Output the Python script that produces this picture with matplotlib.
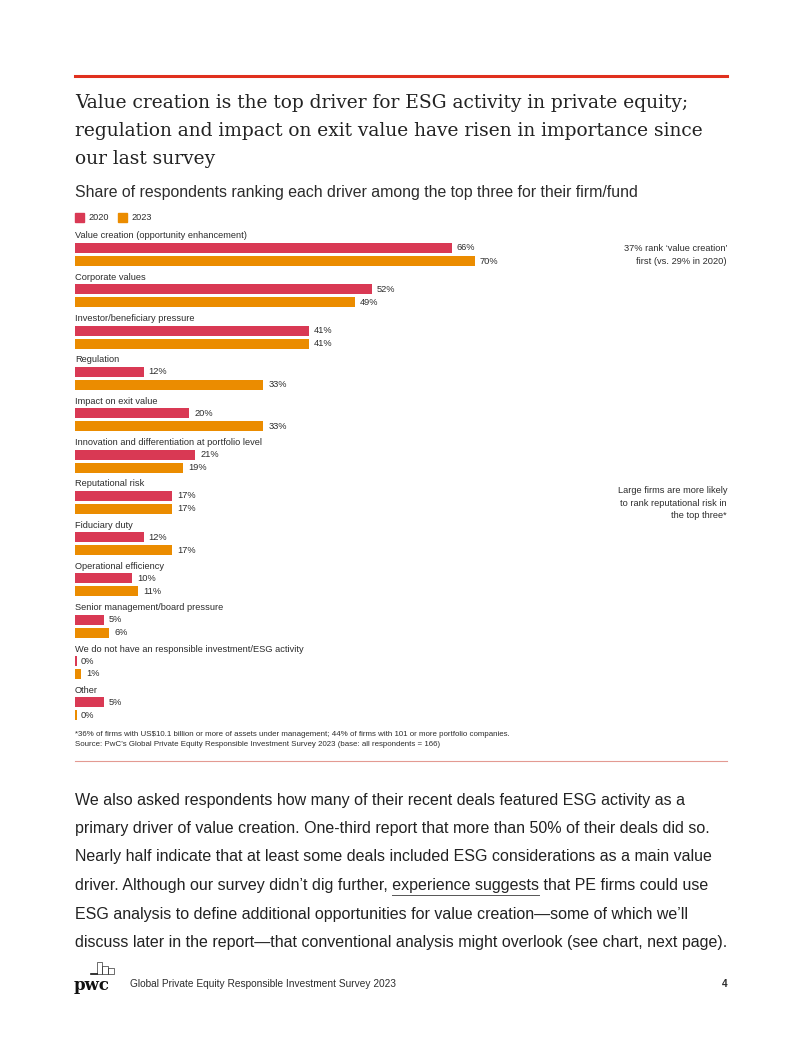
import numpy as np
import matplotlib.pyplot as plt
from matplotlib.patches import Rectangle
from matplotlib.lines import Line2D

W, H = 802, 1037
SANS = 'Liberation Sans'
SERIF = 'DejaVu Serif'
RED = '#D93954'
ORANGE = '#EB8C00'
TXT = '#2d2d2d'

categories = ['Value creation (opportunity enhancement)', 'Corporate values',
              'Investor/beneficiary pressure', 'Regulation', 'Impact on exit value',
              'Innovation and differentiation at portfolio level', 'Reputational risk',
              'Fiduciary duty', 'Operational efficiency', 'Senior management/board pressure',
              'We do not have an responsible investment/ESG activity', 'Other']
v2020 = [66, 52, 41, 12, 20, 21, 17, 12, 10, 5, 0, 5]
v2023 = [70, 49, 41, 33, 33, 19, 17, 17, 11, 6, 1, 0]
years = ['2020', '2023']

fig = plt.figure(figsize=(W / 100, H / 100), dpi=100)
fig.patch.set_facecolor('white')


def fx(x):
    return x / W


def fy(y):
    return 1 - y / H


def ftext(x, y, s, **kw):
    kw.setdefault('family', SANS)
    kw.setdefault('color', TXT)
    kw.setdefault('va', 'center')
    return fig.text(fx(x), fy(y), s, **kw)


# top rule
fig.add_artist(Line2D([fx(75), fx(727)], [fy(76), fy(76)], color='#E0301E', lw=2.2))

title = ['Value creation is the top driver for ESG activity in private equity;',
         'regulation and impact on exit value have risen in importance since',
         'our last survey']
for i, line in enumerate(title):
    ftext(75, 103 + i * 28, line, family=SERIF, fontsize=13.4, color='#222222')

ftext(75, 192, 'Share of respondents ranking each driver among the top three for their firm/fund',
      fontsize=11.4)

# legend
for i, (yr, c) in enumerate(zip(years, [RED, ORANGE])):
    x0 = 75 + i * 43
    fig.add_artist(Rectangle((fx(x0), fy(222)), 9 / W, 9 / H, color=c))
    ftext(x0 + 13, 217.5, yr, fontsize=6.6)

# chart axes in pixel-like units
left, right, top, bottom = 75, 740, 228, 722
ax = fig.add_axes([fx(left), fy(bottom), (right - left) / W, (bottom - top) / H])
ax.set_xlim(0, (right - left) / 5.71)
ax.set_ylim(bottom, top)
ax.axis('off')

step = 41.3
y_lab = 236 + np.arange(len(categories)) * step
ax.barh(y_lab + 12, np.maximum(v2020, 0.3), height=10, color=RED, left=0)
ax.barh(y_lab + 25, np.maximum(v2023, 0.3), height=10, color=ORANGE, left=0)
for i, cat in enumerate(categories):
    ax.text(0, y_lab[i], cat, va='center', ha='left', fontsize=6.7, family=SANS, color=TXT)
    ax.text(v2020[i] + 0.9, y_lab[i] + 12, f'{v2020[i]}%', va='center', fontsize=6.7,
            family=SANS, color=TXT)
    ax.text(v2023[i] + 0.9, y_lab[i] + 25, f'{v2023[i]}%', va='center', fontsize=6.7,
            family=SANS, color=TXT)

# side notes
ftext(727, 255, '37% rank \u2018value creation\u2019\nfirst (vs. 29% in 2020)', ha='right',
      fontsize=6.7, linespacing=1.45)
ftext(727, 503, 'Large firms are more likely\nto rank reputational risk in\nthe top three*',
      ha='right', fontsize=6.7, linespacing=1.45)

# footnotes
ftext(75, 735, '*36% of firms with US$10.1 billion or more of assets under management; '
      '44% of firms with 101 or more portfolio companies.', fontsize=5.7)
ftext(75, 745, 'Source: PwC\u2019s Global Private Equity Responsible Investment Survey 2023 '
      '(base: all respondents = 166)', fontsize=5.7)
fig.add_artist(Line2D([fx(75), fx(727)], [fy(761), fy(761)], color='#E39A92', lw=0.8))

# body text
body = ['We also asked respondents how many of their recent deals featured ESG activity as a',
        'primary driver of value creation. One-third report that more than 50% of their deals did so.',
        'Nearly half indicate that at least some deals included ESG considerations as a main value',
        'driver. Although our survey didn\u2019t dig further, experience suggests that PE firms could use',
        'ESG analysis to define additional opportunities for value creation\u2014some of which we\u2019ll',
        'discuss later in the report\u2014that conventional analysis might overlook (see chart, next page).']
body_fs = 11.55
for i, line in enumerate(body):
    ftext(75, 800 + i * 28.5, line, fontsize=body_fs, color='#222222')

# underline "experience suggests"
renderer = fig.canvas.get_renderer()
pre = ftext(75, 886, 'driver. Although our survey didn\u2019t dig further, ', fontsize=body_fs, alpha=0)
word = ftext(75, 886, 'experience suggests', fontsize=body_fs, alpha=0)
x_start = pre.get_window_extent(renderer).width
x_len = word.get_window_extent(renderer).width
fig.add_artist(Line2D([fx(75 + x_start), fx(75 + x_start + x_len)], [fy(895), fy(895)],
                      color='#555555', lw=0.7))

# footer
ftext(74, 985, 'pwc', family='DejaVu Serif', fontsize=12, fontweight='bold',
      color='#111111')
for (x, y, w, h) in [(97, 962, 5, 12), (102, 966, 6, 8), (108, 968, 6, 6)]:
    fig.add_artist(Rectangle((fx(x), fy(y + h)), w / W, h / H, fill=False, lw=0.5,
                             edgecolor='#333333'))
fig.add_artist(Line2D([fx(91), fx(97)], [fy(974), fy(974)], color='#111111', lw=1.2))
ftext(130, 984, 'Global Private Equity Responsible Investment Survey 2023', fontsize=7.3)
ftext(727, 984, '4', ha='right', fontsize=7.3, fontweight='bold')

fig.savefig('out.png', dpi=100)
